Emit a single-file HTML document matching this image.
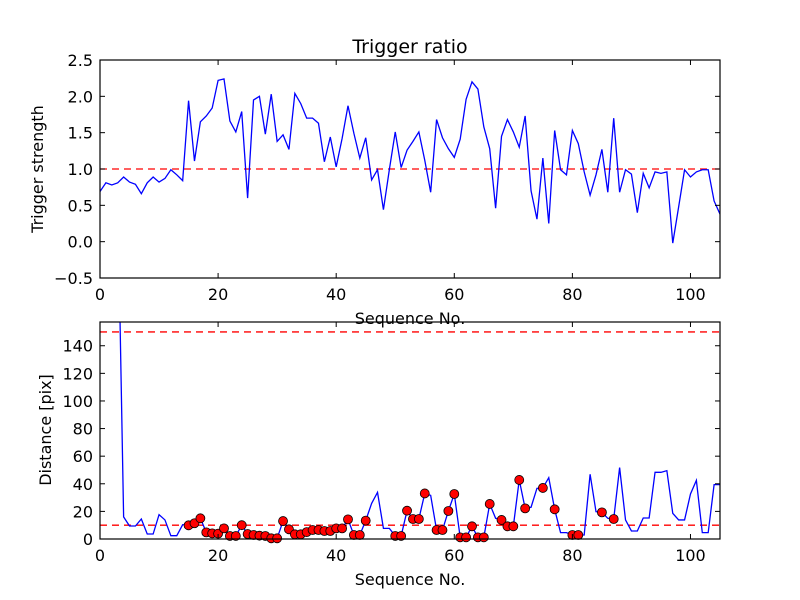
<!DOCTYPE html>
<html><head><meta charset="utf-8"><style>
body{margin:0;background:#fff;}
svg{display:block;font-family:"DejaVu Sans","Liberation Sans",sans-serif;}
</style></head><body>
<svg id="chart" width="800" height="600" viewBox="0 0 800 600"></svg>
<script>
const xTicks=[0,20,40,60,80,100];
const topYTicks=[-0.5,0.0,0.5,1.0,1.5,2.0,2.5];
const botYTicks=[0,20,40,60,80,100,120,140];
const triggerStrength=[0.69,0.81,0.78,0.81,0.89,0.82,0.79,0.66,0.81,0.89,0.82,0.87,0.99,0.92,0.84,1.94,1.11,1.65,1.73,1.84,2.22,2.24,1.66,1.51,1.79,0.60,1.95,2.0,1.48,2.03,1.38,1.47,1.27,2.04,1.90,1.70,1.70,1.63,1.10,1.44,1.03,1.42,1.87,1.49,1.15,1.43,0.85,0.99,0.44,0.99,1.51,1.02,1.26,1.38,1.51,1.12,0.68,1.68,1.43,1.28,1.16,1.41,1.96,2.20,2.10,1.58,1.28,0.46,1.45,1.68,1.51,1.30,1.73,0.70,0.31,1.15,0.25,1.53,0.99,0.92,1.53,1.35,0.96,0.64,0.92,1.27,0.68,1.70,0.68,0.99,0.93,0.40,0.94,0.74,0.96,0.94,0.96,-0.02,0.48,0.99,0.89,0.96,0.99,0.99,0.56,0.38];
const distance=[300,280,260,250,16,9.4,9.4,14.5,3.6,3.6,17.6,13.8,2.4,2.4,10.4,9.9,11.4,15,4.8,4.1,3.9,7.7,2.2,2.2,10,3.6,2.9,2.4,2.2,0.5,0.5,13,7,3.4,3.4,5,6.5,6.5,5.8,5.8,7.7,7.7,14.2,2.9,2.9,13.3,25.8,33.8,7.7,7.7,2.2,2.2,20.5,14.5,14.5,33,31.6,6.5,6.5,20.3,32.6,1.2,1.2,9.2,1.2,1.2,25.4,15,13.8,9.2,9.2,42.8,22.2,23,36.7,37,44.4,21.5,4.6,4.6,2.9,2.9,2.9,46.9,19.8,19.3,15,14.5,51.7,13.8,5.8,5.8,15.2,15.2,48.3,48.3,49.5,18.6,13.8,13.8,32.6,42.5,4.6,4.6,39.4,39.4];
const markerIdx=[15,16,17,18,19,20,21,22,23,24,25,26,27,28,29,30,31,32,33,34,35,36,37,38,39,40,41,42,43,44,45,50,51,52,53,54,55,57,58,59,60,61,62,63,64,65,66,68,69,70,71,72,75,77,80,81,85,87];
const triggerThreshold=[1.0];
const distThresholds=[150,10];

const NS='http://www.w3.org/2000/svg';
const svg=document.getElementById('chart');
function mk(tag,attrs,parent){const e=document.createElementNS(NS,tag);for(const k in attrs)e.setAttribute(k,attrs[k]);(parent||svg).appendChild(e);return e;}
const L=100,R=720,XMAX=105;
const sx=v=>L+(v/XMAX)*(R-L);
function panel(name,top,bot,ymin,ymax,yTicks,fmt){
  const sy=v=>bot-(v-ymin)/(ymax-ymin)*(bot-top);
  const g=mk('g',{});
  
  
  const clipId=name+'-clip';
  const cp=mk('clipPath',{id:clipId},g);mk('rect',{x:L,y:top,width:R-L,height:bot-top},cp);
  const plot=mk('g',{'clip-path':'url(#'+clipId+')'},g);
  return {g,plot,sy,top,bot,yTicks,fmt};
}
function frame(p){
  const {g,sy,top,bot}=p;
  xTicks.forEach(t=>{const x=sx(t);
    mk('line',{x1:x,x2:x,y1:bot,y2:bot-5,stroke:'#000'},g);
    mk('line',{x1:x,x2:x,y1:top,y2:top+5,stroke:'#000'},g);
    const tx=mk('text',{x:x,y:bot+22,'text-anchor':'middle','font-size':16},g);tx.textContent=t;
    
    
  });
  p.yTicks.forEach(t=>{const y=sy(t);
    mk('line',{x1:L,x2:L+5,y1:y,y2:y,stroke:'#000'},g);
    mk('line',{x1:R,x2:R-5,y1:y,y2:y,stroke:'#000'},g);
    const tx=mk('text',{x:L-7,y:y+6,'text-anchor':'end','font-size':16},g);tx.textContent=p.fmt(t);
    
    
  });
  mk('rect',{x:L,y:top,width:R-L,height:bot-top,fill:'none',stroke:'#000','stroke-width':1.2},g);
}
function hline(p,v,name){const y=p.sy(v);const l=mk('line',{x1:L,x2:R,y1:y,y2:y,stroke:'#ff0000','stroke-width':1.3,'stroke-dasharray':'7,5'},p.plot);
  
  }
function series(p,arr,name){const d=arr.map((v,i)=>(i?'L':'M')+sx(i).toFixed(2)+','+p.sy(v).toFixed(2)).join(' ');
  const e=mk('path',{d:d,fill:'none',stroke:'#0000ff','stroke-width':1.3},p.plot);
  
  }

const p1=panel('trigger-panel',60,278,-0.5,2.5,topYTicks,t=>(t<0?'\u2212':'')+Math.abs(t).toFixed(1));
triggerThreshold.forEach(v=>hline(p1,v,'threshold-line'));
series(p1,triggerStrength,'trigger-strength-line');
frame(p1);
const p2=panel('distance-panel',322,539,0,157.2,botYTicks,t=>String(t));
distThresholds.forEach(v=>hline(p2,v,'distance-threshold-line'));
series(p2,distance,'distance-line');
markerIdx.forEach(i=>{const c=mk('circle',{cx:sx(i),cy:p2.sy(distance[i]),r:4.5,fill:'#ff0000',stroke:'#000','stroke-width':0.8},p2.g);
  
  });
frame(p2);

function label(txt,x,y,size,name,rot){const t=mk('text',{x:x,y:y,'text-anchor':'middle','font-size':size});
  if(rot)t.setAttribute('transform','rotate(-90 '+x+' '+y+')');
  t.textContent=txt;
  
  }
label('Trigger ratio',410,53,19,'chart-title');
label('Sequence No.',410,324,16,'top-x-axis-title');
label('Trigger strength',43,169,16,'top-y-axis-title',true);
label('Sequence No.',410,585,16,'bottom-x-axis-title');
label('Distance [pix]',51,430,16,'bottom-y-axis-title',true);
</script>
</body></html>
